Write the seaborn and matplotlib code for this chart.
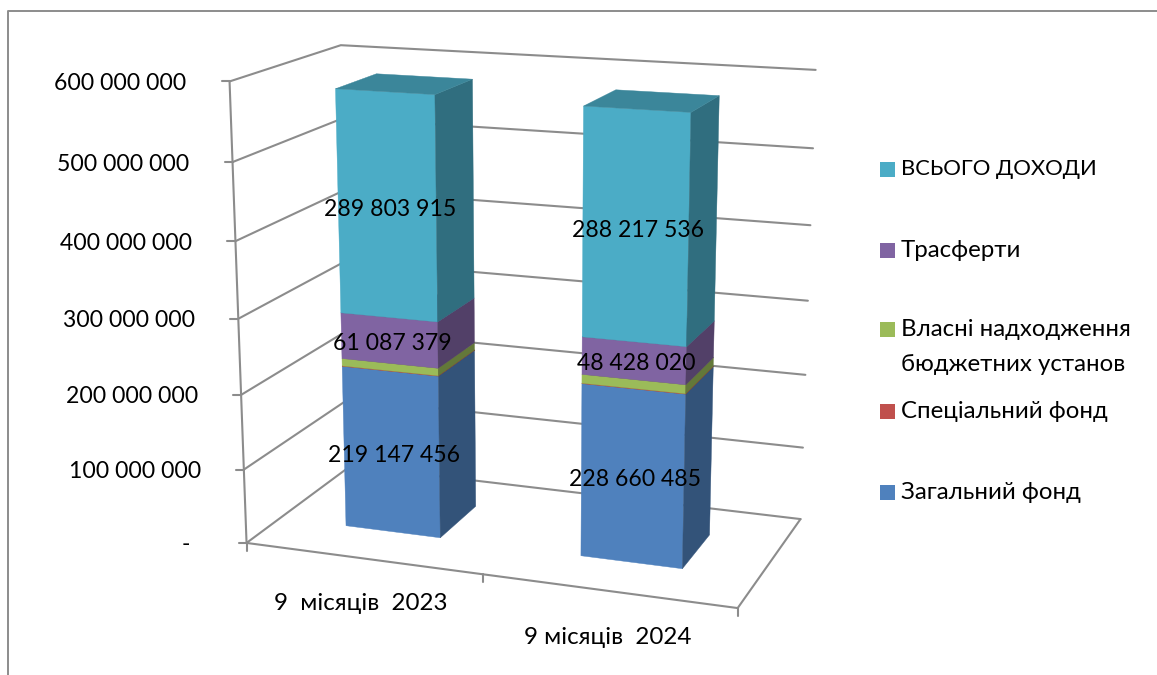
import numpy as np
import matplotlib
matplotlib.use("Agg")
import matplotlib.pyplot as plt
from matplotlib.patches import Polygon, Rectangle
import seaborn as sns

sns.set_theme(style="white")
plt.rcParams['font.family'] = ['Lato', 'Open Sans', 'DejaVu Sans']

categories = ["9  місяців  2023", "9 місяців  2024"]
series_names = ["Загальний фонд", "Спеціальний фонд", "Власні надходження\nбюджетних установ", "Трасферти", "ВСЬОГО ДОХОДИ"]
zagalnyi = [219147456, 228660485]
spetsialnyi = [500000, 500000]
vlasni = [10000000, 11500000]
transferty = [61087379, 48428020]
vsogo = [289803915, 288217536]
series_colors = sns.color_palette(["#4F81BD", "#C0504D", "#9BBB59", "#8064A2", "#4BACC6"])
tick_values = [0, 100e6, 200e6, 300e6, 400e6, 500e6, 600e6]
tick_labels = ["-", "100 000 000", "200 000 000", "300 000 000", "400 000 000", "500 000 000", "600 000 000"]
value_max = 600e6

# Perspective camera: (category, value / max, depth) -> image pixels
CAM = np.array([[218.63696677313519, -29.743250536942995, 139.78996318872495, 246.5477706435499],
                [10.371455664857685, -466.0185865518133, -29.629960804227274, 542.9318462621925],
                [-0.03650145342277368, -0.055545281572962006, 0.10185506034471223, 1.0]])
BAR_OFFSET, BAR_WIDTH = 0.29, 0.41
DEPTH_NEAR, DEPTH_FAR = 0.31, 0.70
GRID = "#8C8C8C"
GRID_LW = 1.5


def proj(x, v, z):
    h = CAM @ np.array([x, v / value_max, z, 1.0])
    return h[0] / h[2], h[1] / h[2]


def shade(color, f):
    return tuple(c * f for c in color)


fig = plt.figure(figsize=(11.57, 6.75), dpi=100, facecolor="white")
ax = fig.add_axes([0, 0, 1, 1])
ax.set_xlim(0, 1157)
ax.set_ylim(675, 0)
ax.axis("off")

# chart frame
ax.plot([8, 8, 1157], [675, 11, 11], color="#8C8C8C", lw=1.4, zorder=1)

# walls and gridlines
for v in tick_values:
    pts = [proj(0, v, 0), proj(0, v, 1), proj(2, v, 1)]
    ax.plot(*zip(*pts), color=GRID, lw=GRID_LW, solid_joinstyle="miter", zorder=1)
ax.plot(*zip(proj(0, 0, 0), proj(2, 0, 0), proj(2, 0, 1)), color=GRID, lw=GRID_LW, zorder=1)
ax.plot(*zip(proj(0, 0, 0), proj(0, value_max, 0)), color=GRID, lw=GRID_LW, zorder=1)

# value ticks and labels
for v, lab in zip(tick_values, tick_labels):
    px, py = proj(0, v, 0)
    ax.plot([px - 8, px], [py, py], color=GRID, lw=GRID_LW, zorder=1)
    right = px - 43 if v else 190
    ax.text(right, py + 2, lab, ha="right", va="center", fontsize=16.6, color="black")

# category ticks and labels
for c in (0, 1, 2):
    px, py = proj(c, 0, 0)
    ax.plot([px, px], [py, py + 8], color=GRID, lw=GRID_LW, zorder=1)
ax.text(361, 604, categories[0], ha="center", va="center", fontsize=17.4, color="black")
ax.text(608, 637, categories[1], ha="center", va="center", fontsize=17.4, color="black")

# stacked 3-D bars
stack = [zagalnyi, spetsialnyi, vlasni, transferty, vsogo]
for c in range(len(categories)):
    x0, x1 = c + BAR_OFFSET, c + BAR_OFFSET + BAR_WIDTH
    base = 0
    for vals, col in zip(stack, series_colors):
        top = base + vals[c]
        faces = [
            ([(x0, base, DEPTH_NEAR), (x1, base, DEPTH_NEAR), (x1, top, DEPTH_NEAR), (x0, top, DEPTH_NEAR)], 1.0),
            ([(x1, base, DEPTH_NEAR), (x1, base, DEPTH_FAR), (x1, top, DEPTH_FAR), (x1, top, DEPTH_NEAR)], 0.64),
            ([(x0, top, DEPTH_NEAR), (x1, top, DEPTH_NEAR), (x1, top, DEPTH_FAR), (x0, top, DEPTH_FAR)], 0.78),
        ]
        for corners, f in faces:
            fc = shade(col, f)
            ax.add_patch(Polygon([proj(*p) for p in corners], closed=True, fc=fc, ec=fc, lw=0.3, zorder=2 + c))
        base = top

# data labels
for c in range(len(categories)):
    xm = c + BAR_OFFSET + BAR_WIDTH / 2
    base = 0
    for vals, show in zip(stack, (True, False, False, True, True)):
        if show:
            px, py = proj(xm, base + vals[c] / 2, DEPTH_NEAR)
            ax.text(px + 3, py + 3, f"{vals[c]:,}".replace(",", " "), ha="center", va="center",
                    fontsize=16.6, color="black", zorder=10)
        base += vals[c]

# legend
legend_y = [492, 411, 329, 250, 169]
legend_size = [17.3, 17.3, 17.3, 17.3, 15.8]
for name, col, y, fs in zip(series_names, series_colors, legend_y, legend_size):
    ax.add_patch(Rectangle((879.5, y - 7.5), 15, 15, fc=col, ec="none", zorder=5))
    ax.text(901, y - 10, name, ha="left", va="top", fontsize=fs, color="black", linespacing=1.8)

fig.savefig("out.png", dpi=100, facecolor="white")
